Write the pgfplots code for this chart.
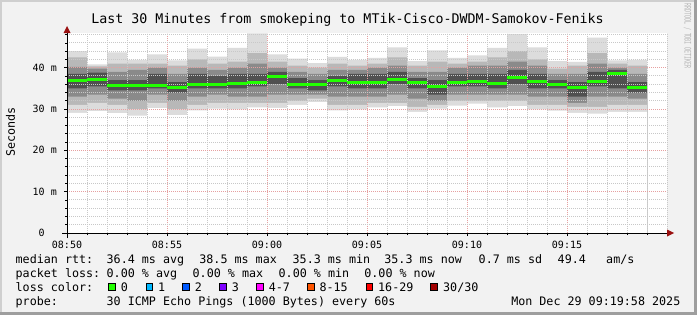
\documentclass[border=0pt]{standalone}
\usepackage{pgfplots}
\pgfplotsset{compat=1.18}
\usepackage{pgfplotstable}
\usepackage{fontspec}
\setmainfont{DejaVu Sans Mono}
\definecolor{bgc}{HTML}{F2F2F2}
\definecolor{lightedge}{HTML}{CFCFCF}
\definecolor{darkedge}{HTML}{9E9E9E}
\definecolor{majgrid}{HTML}{E6A0A0}
\definecolor{mingrid}{HTML}{C8C8C8}
\definecolor{sA}{HTML}{DCDCDC}
\definecolor{sB}{HTML}{B8B8B8}
\definecolor{sC}{HTML}{8A8A8A}
\definecolor{sD}{HTML}{505050}
\definecolor{medgreen}{HTML}{22FF00}
\definecolor{arrowc}{HTML}{9A1010}
\definecolor{lc1}{HTML}{00B8FF}
\definecolor{lc2}{HTML}{0059FF}
\definecolor{lc3}{HTML}{7E00FF}
\definecolor{lc4}{HTML}{FF00FF}
\definecolor{lc8}{HTML}{FF5500}
\definecolor{lc16}{HTML}{FF0000}
\definecolor{lc30}{HTML}{A10000}
\definecolor{wmark}{HTML}{B4B4B4}
\newcommand{\lf}{\fontsize{11.7bp}{14bp}\selectfont}
\pgfplotstableread{
t  lo1  lo2  lo3  lo4  hi4  hi3  hi2  hi1  med
0  29.1 31.0 33.0 35.0 38.5 40.2 42.5 44.0 36.8
1  29.5 31.5 33.5 35.5 38.8 39.8 40.3 40.8 37.1
2  29.0 31.0 32.5 34.5 37.0 39.0 41.0 43.7 35.7
3  28.4 30.0 32.0 34.5 37.0 39.5 41.0 41.9 35.7
4  30.2 31.5 33.5 35.0 38.5 40.0 41.0 43.2 35.7
5  28.5 30.0 32.0 34.0 36.5 38.5 40.5 41.8 35.3
6  29.7 31.0 33.0 35.0 38.5 40.0 42.0 44.6 36.0
7  30.1 31.5 33.5 35.0 38.0 39.5 41.0 42.7 36.0
8  29.9 31.5 33.0 35.0 38.5 40.0 41.5 44.8 36.1
9  30.4 31.5 33.0 35.5 38.5 41.0 43.5 48.3 36.5
10 30.3 31.5 33.5 36.0 39.0 40.0 41.5 43.2 37.8
11 31.0 32.0 33.5 35.0 37.5 39.0 40.5 42.2 36.0
12 31.7 32.5 33.5 34.5 37.0 38.5 40.0 41.1 36.0
13 29.7 31.0 33.0 35.5 38.0 39.5 41.0 42.6 36.9
14 29.9 31.0 33.0 35.0 38.5 39.5 40.5 41.9 36.5
15 30.4 31.5 33.0 35.0 38.5 40.0 41.0 42.4 36.5
16 30.7 31.5 33.5 36.0 39.0 40.5 42.5 44.9 37.2
17 29.3 30.5 32.5 35.0 37.5 39.0 40.5 41.6 36.5
18 30.1 31.0 32.0 33.5 37.0 39.0 41.5 44.2 35.5
19 30.8 32.0 33.5 35.5 38.5 40.0 41.0 42.4 36.4
20 31.3 32.0 33.5 35.5 38.5 40.5 41.5 43.0 36.7
21 30.4 32.0 33.5 35.0 38.5 40.5 42.5 44.8 36.1
22 30.7 32.0 33.5 36.0 39.5 41.5 44.0 48.2 37.6
23 29.9 31.0 33.0 35.0 38.5 40.5 42.0 44.9 36.6
24 29.6 31.0 33.0 35.0 37.0 38.5 39.8 41.6 35.9
25 29.1 30.5 31.5 33.0 36.5 38.5 40.5 41.4 35.3
26 28.9 30.5 33.0 35.5 39.0 41.0 43.5 47.3 36.6
27 29.3 31.0 33.0 35.0 39.5 40.0 41.0 41.8 38.5
28 29.3 31.0 32.5 34.0 36.5 38.5 40.5 41.9 35.3
29 29.3 31.0 32.5 34.0 36.5 38.5 40.5 41.9 35.3
}\smoke
\begin{document}
\begin{tikzpicture}[x=1bp,y=1bp]
\useasboundingbox (0,0) rectangle (697,315);
\fill[bgc] (0,0) rectangle (697,315);
\fill[lightedge] (0,0) rectangle (2,315);
\fill[lightedge] (0,313) rectangle (697,315);
\fill[darkedge] (694,0) rectangle (697,315);
\fill[darkedge] (0,0) rectangle (697,3);
\begin{axis}[at={(67bp,82bp)}, anchor=south west, scale only axis,
  width=600bp, height=200bp,
  xmin=0, xmax=30, ymin=0, ymax=48.4,
  axis background/.style={fill=white},
  axis on top,
  axis lines*=left, axis line style={draw=none},
  xtick={0,5,...,25}, xticklabels={08:50,08:55,09:00,09:05,09:10,09:15},
  minor xtick={0,1,...,30},
  ytick={0,10,20,30,40}, yticklabels={0\hphantom{\ m},10 m,20 m,30 m,40 m},
  minor ytick={0,2,...,48},
  grid=both,
  major grid style={draw=majgrid, line width=1bp, dash pattern=on 1bp off 1bp},
  minor grid style={draw=mingrid, line width=1bp, dash pattern=on 1bp off 1bp},
  tick align=outside, major tick length=3bp, minor tick length=2bp,
  tick style={black, line width=0.8bp},
  ticklabel style={font=\fontsize{10bp}{12bp}\selectfont, inner sep=0pt},
  xticklabel style={anchor=base, yshift=-12bp},
  yticklabel style={anchor=base east, xshift=-7bp, yshift=-3.6bp},
]
\addplot[const plot, fill=sA, draw=none] table[x=t,y=hi1]{\smoke} \closedcycle;
\addplot[const plot, fill=sB, draw=none] table[x=t,y=hi2]{\smoke} \closedcycle;
\addplot[const plot, fill=sC, draw=none] table[x=t,y=hi3]{\smoke} \closedcycle;
\addplot[const plot, fill=sD, draw=none] table[x=t,y=hi4]{\smoke} \closedcycle;
\addplot[const plot, fill=sC, draw=none] table[x=t,y=lo4]{\smoke} \closedcycle;
\addplot[const plot, fill=sB, draw=none] table[x=t,y=lo3]{\smoke} \closedcycle;
\addplot[const plot, fill=sA, draw=none] table[x=t,y=lo2]{\smoke} \closedcycle;
\addplot[const plot, fill=white, draw=none] table[x=t,y=lo1]{\smoke} \closedcycle;
\end{axis}
\begin{axis}[at={(67bp,82bp)}, anchor=south west, scale only axis,
  width=600bp, height=200bp,
  xmin=0, xmax=30, ymin=0, ymax=48.4, hide axis]
\addplot[jump mark left, draw=medgreen, line width=3bp] table[x=t,y=med]{\smoke};
\end{axis}
% axes
\draw[black, line width=1bp] (62,82) -- (669,82);
\fill[arrowc] (674,82) -- (667,78.5) -- (667,85.5) -- cycle;
\draw[black, line width=1bp] (67,77) -- (67,283);
\fill[arrowc] (67,289) -- (63.5,282) -- (70.5,282) -- cycle;
% title
\node[anchor=base, inner sep=0, font=\fontsize{13.3bp}{16bp}\selectfont] at (347.5,292) {Last 30 Minutes from smokeping to MTik-Cisco-DWDM-Samokov-Feniks};
% y label
\node[rotate=90, inner sep=0, font=\lf] at (10.5,183) {Seconds};
% watermark
\node[rotate=-90, xscale=0.55, transform shape, inner sep=0, text=wmark, font=\fontsize{9bp}{10bp}\selectfont] at (687.5,279) {RRDTOOL / TOBI OETIKER};
\begin{scope}[every node/.style={anchor=base west, inner sep=0, font=\lf}]
\node at (15.5,52) {median rtt:};
\node at (106.5,52) {36.4 ms avg};
\node at (199.2,52) {38.5 ms max};
\node at (292.5,52) {35.3 ms min};
\node at (384.2,52) {35.3 ms now};
\node at (478.5,52) {0.7 ms sd};
\node at (557.5,52) {49.4};
\node at (606,52) {am/s};
\node at (15.5,38) {packet loss:};
\node at (106.5,38) {0.00 \% avg};
\node at (192.5,38) {0.00 \% max};
\node at (278.5,38) {0.00 \% min};
\node at (364.2,38) {0.00 \% now};
\node at (15.5,24) {loss color:};
\node at (120.7,24) {0};
\node at (158,24) {1};
\node at (194.7,24) {2};
\node at (231.7,24) {3};
\node at (268.7,24) {4-7};
\node at (319.3,24) {8-15};
\node at (378,24) {16-29};
\node at (443,24) {30/30};
\node at (15.5,10) {probe:};
\node at (106.5,10) {30 ICMP Echo Pings (1000 Bytes) every 60s};
\node[anchor=base east] at (680.5,10) {Mon Dec 29 09:19:58 2025};
\end{scope}
\begin{scope}[line width=1bp]
\filldraw[fill=medgreen, draw=black] (108.6,24.6) rectangle (115.4,31.4);
\filldraw[fill=lc1, draw=black] (146,24.6) rectangle (152.8,31.4);
\filldraw[fill=lc2, draw=black] (182.6,24.6) rectangle (189.4,31.4);
\filldraw[fill=lc3, draw=black] (219.6,24.6) rectangle (226.4,31.4);
\filldraw[fill=lc4, draw=black] (256.6,24.6) rectangle (263.4,31.4);
\filldraw[fill=lc8, draw=black] (307.3,24.6) rectangle (314.1,31.4);
\filldraw[fill=lc16, draw=black] (366,24.6) rectangle (372.8,31.4);
\filldraw[fill=lc30, draw=black] (430.6,24.6) rectangle (437.4,31.4);
\end{scope}
\end{tikzpicture}
\end{document}
